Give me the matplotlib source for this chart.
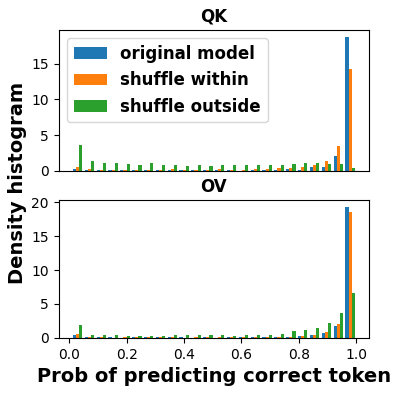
import numpy as np
import matplotlib
matplotlib.use("Agg")
import matplotlib.pyplot as plt

labels = ["original model", "shuffle within", "shuffle outside"]
colors = ["#1f77b4", "#ff7f0e", "#2ca02c"]
edges = np.linspace(0.008, 1.0, 25)

qk_original = [0.23, 0.05, 0.05, 0.05, 0.05, 0.05, 0.05, 0.05, 0.05, 0.05, 0.05, 0.05,
               0.05, 0.05, 0.0, 0.05, 0.05, 0.05, 0.19, 0.05, 0.47, 0.47, 2.1, 18.8]
qk_within = [0.51, 0.19, 0.05, 0.05, 0.05, 0.05, 0.05, 0.05, 0.19, 0.05, 0.05, 0.05,
             0.19, 0.05, 0.05, 0.19, 0.19, 0.33, 0.33, 0.47, 0.75, 1.3, 3.4, 14.3]
qk_outside = [3.54, 1.3, 1.02, 1.02, 0.88, 0.75, 1.02, 0.75, 0.75, 0.6, 0.75, 0.6,
              0.75, 0.75, 0.75, 0.75, 0.75, 0.75, 0.88, 1.02, 1.02, 0.88, 1.0, 0.4]

ov_original = [0.39, 0.1, 0.1, 0.1, 0.0, 0.1, 0.1, 0.1, 0.1, 0.1, 0.0, 0.1,
               0.0, 0.1, 0.1, 0.1, 0.1, 0.1, 0.1, 0.24, 0.39, 0.68, 1.7, 19.4]
ov_within = [0.58, 0.1, 0.1, 0.0, 0.1, 0.1, 0.1, 0.1, 0.1, 0.0, 0.1, 0.1,
             0.1, 0.1, 0.1, 0.1, 0.1, 0.1, 0.1, 0.24, 0.39, 0.82, 1.99, 18.56]
ov_outside = [1.89, 0.39, 0.39, 0.39, 0.24, 0.24, 0.24, 0.24, 0.39, 0.39, 0.39, 0.39,
              0.39, 0.24, 0.39, 0.39, 0.39, 0.53, 0.97, 1.1, 1.4, 2.13, 3.6, 6.64]

centers = (edges[:-1] + edges[1:]) / 2

fig = plt.figure(figsize=(3.98, 3.96), dpi=100)
ax1 = fig.add_axes([0.1475, 0.569, 0.927 - 0.1475, 0.924 - 0.569])
ax2 = fig.add_axes([0.1475, 0.147, 0.927 - 0.1475, 0.495 - 0.147], sharex=ax1)

for ax, data, title in [(ax1, [qk_original, qk_within, qk_outside], "QK"),
                        (ax2, [ov_original, ov_within, ov_outside], "OV")]:
    ax.hist([centers] * 3, bins=edges, weights=data, color=colors, label=labels)
    ax.set_title(title, fontweight="bold", fontsize=12)

ax1.tick_params(axis="x", bottom=False, labelbottom=False)
ax1.set_yticks([0, 5, 10, 15])
ax2.set_yticks([0, 5, 10, 15, 20])
ax2.set_xticks([0.0, 0.2, 0.4, 0.6, 0.8, 1.0])
ax1.legend(loc="upper left", prop={"weight": "bold", "size": 12})
ax2.set_xlabel("Prob of predicting correct token", fontweight="bold", fontsize=14)
fig.text(18 / 398, 1 - 183 / 396, "Density histogram", rotation=90,
         fontweight="bold", fontsize=14, ha="center", va="center")

fig.savefig("out.png", dpi=100)
